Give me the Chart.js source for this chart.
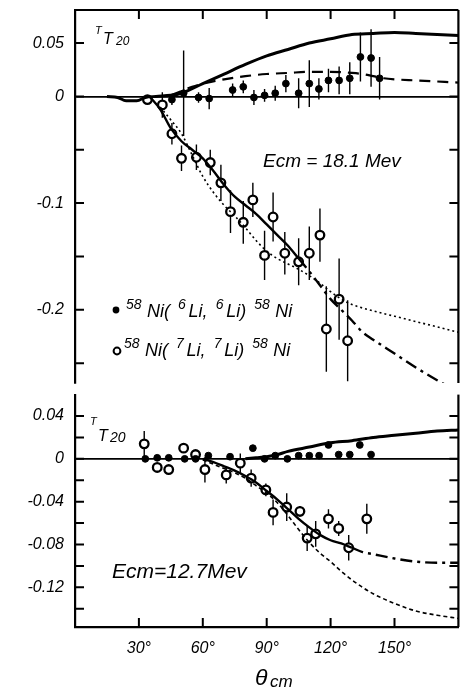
<!DOCTYPE html>
<html><head><meta charset="utf-8">
<script src="https://cdn.jsdelivr.net/npm/chart.js@4.4.1/dist/chart.umd.min.js"></script>
<style>
html,body{margin:0;padding:0;background:#fff;}
#wrap{position:relative;width:465px;height:689px;overflow:hidden;background:#fff;}
canvas{position:absolute;left:0;}
#c1{top:0;} #c2{top:388px;}
</style></head><body>
<div id="wrap"><canvas id="c1" width="465" height="390"></canvas><canvas id="c2" width="465" height="301"></canvas></div>
<script>
// ---------- tick labels ----------
const xTickVals = [30, 60, 90, 120, 150];
const xTickLabels = ['30°', '60°', '90°', '120°', '150°'];
const topYTicks = [0.05, 0, -0.05, -0.1, -0.15, -0.2, -0.25];
const topYLabels = ['0.05', '0', '', '-0.1', '', '-0.2', ''];
const botYTicks = [0.04, 0.02, 0, -0.02, -0.04, -0.06, -0.08, -0.10, -0.12, -0.14];
const botYLabels = ['0.04', '', '0', '', '-0.04', '', '-0.08', '', '-0.12', ''];

// ---------- upper panel, Ecm = 18.1 MeV ----------
const top6Theta = [45.5, 51, 58, 63, 74, 79, 84, 89, 94, 99, 105, 110, 114.5, 119, 124, 129, 134, 139, 143];
const top6Val   = [-0.003, 0.003, -0.001, -0.002, 0.006, 0.009, -0.001, 0.001, 0.003, 0.012, 0.003, 0.012, 0.007, 0.015, 0.015, 0.017, 0.037, 0.036, 0.017];
const top6Err   = [0.005, 0.04, 0.005, 0.01, 0.006, 0.006, 0.007, 0.006, 0.007, 0.008, 0.014, 0.022, 0.01, 0.011, 0.013, 0.015, 0.023, 0.027, 0.02];

const top7Theta = [34, 41, 45.5, 50, 57, 63.5, 68.5, 73, 79, 83.5, 89, 93, 98.5, 105, 110, 115, 118, 124, 128];
const top7Val   = [-0.003, -0.008, -0.035, -0.058, -0.057, -0.062, -0.081, -0.108, -0.118, -0.097, -0.149, -0.113, -0.147, -0.155, -0.147, -0.130, -0.218, -0.19, -0.229];
const top7Err   = [0.004, 0.012, 0.01, 0.012, 0.012, 0.012, 0.017, 0.02, 0.02, 0.016, 0.023, 0.023, 0.02, 0.022, 0.025, 0.025, 0.04, 0.038, 0.038];

const topFit6SolidTheta = [15, 20, 24, 29, 33, 38, 45, 50, 60, 70, 80, 90, 100, 110, 120, 130, 140, 150, 160, 170, 180];
const topFit6SolidVal   = [0, -0.001, -0.004, -0.004, -0.001, 0, 0.001, 0.003, 0.012, 0.021, 0.03, 0.038, 0.044, 0.05, 0.054, 0.058, 0.059, 0.06, 0.059, 0.058, 0.057];
const topFit6DashTheta  = [45, 50, 55, 60, 70, 80, 90, 100, 110, 120, 130, 135, 140, 145, 150, 160, 170, 180];
const topFit6DashVal    = [0.001, 0.005, 0.009, 0.012, 0.016, 0.019, 0.021, 0.022, 0.023, 0.023, 0.022, 0.021, 0.019, 0.017, 0.016, 0.015, 0.014, 0.013];
const topFit7DashDotTheta = [35, 40, 45, 50, 55, 60, 65, 70, 75, 80, 85, 90, 95, 100, 105, 110, 115, 120, 125, 130, 135, 140, 150, 160, 170, 180];
const topFit7DashDotVal   = [0, -0.012, -0.03, -0.042, -0.05, -0.058, -0.07, -0.083, -0.094, -0.102, -0.11, -0.12, -0.13, -0.14, -0.152, -0.164, -0.177, -0.19, -0.2, -0.21, -0.221, -0.228, -0.241, -0.254, -0.266, -0.277];
const topFit7DotTheta = [40, 45, 50, 55, 60, 65, 70, 75, 80, 85, 90, 95, 100, 105, 110, 115, 120, 125, 130, 140, 150, 160, 170, 180];
const topFit7DotVal   = [-0.01, -0.022, -0.035, -0.055, -0.075, -0.09, -0.102, -0.112, -0.123, -0.135, -0.145, -0.152, -0.157, -0.162, -0.168, -0.175, -0.183, -0.19, -0.195, -0.201, -0.206, -0.211, -0.216, -0.221];

// ---------- lower panel, Ecm = 12.7 MeV ----------
const bot6Theta = [33, 38.6, 44, 51.5, 56.6, 62.6, 72.8, 83.5, 89, 94, 99.7, 105, 110, 114.6, 119, 123.8, 129, 133.7, 139];
const bot6Val   = [0, 0.001, 0.001, 0, 0, 0.003, 0.002, 0.01, 0, 0.003, 0, 0.003, 0.003, 0.003, 0.013, 0.004, 0.004, 0.013, 0.004];

const bot7Theta = [32.5, 38.6, 44, 51, 56.6, 61, 71, 77.6, 82.7, 89.6, 93, 99.4, 105.6, 109, 113, 119, 123.8, 128.5, 137];
const bot7Val   = [0.014, -0.008, -0.01, 0.01, 0.004, -0.01, -0.015, -0.004, -0.018, -0.029, -0.05, -0.045, -0.049, -0.074, -0.07, -0.056, -0.065, -0.083, -0.056];
const bot7Err   = [0.012, 0.003, 0.003, 0.004, 0.004, 0.012, 0.008, 0.009, 0.008, 0.006, 0.012, 0.013, 0.005, 0.012, 0.012, 0.009, 0.007, 0.012, 0.014];

const botFit6SolidTheta = [80, 85, 90, 95, 100, 110, 120, 130, 140, 150, 160, 170, 180];
const botFit6SolidVal   = [0, 0.001, 0.002, 0.004, 0.007, 0.011, 0.015, 0.017, 0.02, 0.022, 0.024, 0.026, 0.027];
const botFit7DashDotTheta = [60, 65, 70, 75, 80, 85, 90, 95, 100, 105, 110, 115, 120, 125, 130, 135, 140, 150, 160, 170, 180];
const botFit7DashDotVal   = [0, -0.003, -0.007, -0.011, -0.016, -0.022, -0.03, -0.038, -0.047, -0.056, -0.064, -0.071, -0.076, -0.079, -0.083, -0.087, -0.089, -0.093, -0.096, -0.097, -0.097];
const botFit7DotTheta = [60, 65, 70, 75, 80, 85, 90, 95, 100, 105, 110, 115, 120, 125, 130, 135, 140, 150, 160, 170, 180];
const botFit7DotVal   = [-0.001, -0.005, -0.009, -0.013, -0.018, -0.025, -0.032, -0.041, -0.053, -0.066, -0.078, -0.088, -0.096, -0.105, -0.113, -0.12, -0.126, -0.135, -0.142, -0.146, -0.149];

// ---------- helpers ----------
const FONT = '"Liberation Sans", "DejaVu Sans", sans-serif';
const pts = (xs, ys) => xs.map((x, i) => ({x: x, y: ys[i]}));
function lineDs(xs, ys, w, dash, extra) {
  return Object.assign({type: 'line', data: pts(xs, ys), borderColor: '#000', borderWidth: w,
    borderDash: dash, pointRadius: 0, fill: false, cubicInterpolationMode: 'monotone'}, extra || {});
}
function ptDs(xs, ys, errs, filled) {
  return {type: 'line', showLine: false, data: pts(xs, ys), errs: errs,
    pointStyle: 'circle', pointRadius: filled ? 3.4 : 4.3,
    pointBackgroundColor: filled ? '#000' : '#fff', pointBorderColor: '#000',
    pointBorderWidth: filled ? 1 : 2.3, borderColor: '#000'};
}

const inward = {
  id: 'inward',
  afterDraw(chart, args, o) {
    const {ctx, chartArea: a, scales: {x, y}} = chart;
    ctx.save();
    ctx.strokeStyle = '#000'; ctx.lineWidth = 2;
    ctx.beginPath();
    o.yTicks.forEach(v => { const py = y.getPixelForValue(v);
      ctx.moveTo(a.left, py); ctx.lineTo(a.left + 9, py);
      ctx.moveTo(a.right, py); ctx.lineTo(a.right - 9, py); });
    xTickVals.forEach(v => { const px = x.getPixelForValue(v);
      if (o.top) { ctx.moveTo(px, a.top); ctx.lineTo(px, a.top + 9); }
      if (o.bottom) { ctx.moveTo(px, a.bottom); ctx.lineTo(px, a.bottom - 9); } });
    ctx.stroke();
    ctx.lineWidth = 2.2; ctx.beginPath();
    ctx.moveTo(a.right, a.top); ctx.lineTo(a.right, a.bottom);
    if (o.top) { ctx.moveTo(a.left, a.top); ctx.lineTo(a.right, a.top); }
    ctx.stroke();
    ctx.restore();
  }
};

const errBars = {
  id: 'errbars',
  beforeDatasetDraw(chart, args) {
    const ds = chart.data.datasets[args.index];
    if (!ds.errs) return;
    const {ctx, scales: {x, y}} = chart;
    ctx.save(); ctx.strokeStyle = '#000'; ctx.lineWidth = 1.4; ctx.beginPath();
    ds.data.forEach((p, i) => { const e = ds.errs[i]; if (!e) return;
      const px = x.getPixelForValue(p.x);
      ctx.moveTo(px, y.getPixelForValue(p.y + e)); ctx.lineTo(px, y.getPixelForValue(p.y - e)); });
    ctx.stroke(); ctx.restore();
  }
};

function rich(ctx, x, y, parts, size, supSize, rise, spacing) {
  parts.forEach(p => {
    const s = p.s ? supSize : size;
    ctx.font = 'italic ' + s + 'px ' + FONT;
    const dy = p.s === 'sup' ? -rise : (p.s === 'sub' ? rise * 0.5 : 0);
    ctx.fillText(p.t, x, y + dy);
    x += ctx.measureText(p.t).width + (spacing || 0) * p.t.length;
  });
}
const legend6 = [{t: '58', s: 'sup'}, {t: 'Ni('}, {t: '6', s: 'sup'}, {t: 'Li,'}, {t: '6', s: 'sup'}, {t: 'Li)'}, {t: '58', s: 'sup'}, {t: 'Ni'}];
const legend7 = [{t: '58', s: 'sup'}, {t: 'Ni('}, {t: '7', s: 'sup'}, {t: 'Li,'}, {t: '7', s: 'sup'}, {t: 'Li)'}, {t: '58', s: 'sup'}, {t: 'Ni'}];

const topText = {
  id: 'topText',
  afterDraw(chart) {
    const ctx = chart.ctx; ctx.save(); ctx.fillStyle = '#000'; ctx.textBaseline = 'alphabetic';
    rich(ctx, 95, 34, [{t: 'T', s: 'sup'}], 16, 11, 0, 0);
    rich(ctx, 103, 44, [{t: 'T'}], 16, 11, 0, 0);
    rich(ctx, 116, 45, [{t: '20', s: 'sub'}], 16, 12, 0, 0);
    ctx.font = 'italic 19px ' + FONT;
    ctx.fillText('Ecm = 18.1 Mev', 263, 167);
    // legend markers
    ctx.beginPath(); ctx.arc(116, 310, 3.4, 0, Math.PI * 2); ctx.fill();
    ctx.beginPath(); ctx.arc(117, 351, 3.4, 0, Math.PI * 2); ctx.lineWidth = 2; ctx.strokeStyle = '#000'; ctx.stroke();
    rich(ctx, 126, 317, legend6, 18, 14, 8, 2.7);
    rich(ctx, 124, 356, legend7, 18, 14, 8, 2.7);
    ctx.restore();
  }
};
const botText = {
  id: 'botText',
  afterDraw(chart) {
    const ctx = chart.ctx; ctx.save(); ctx.fillStyle = '#000'; ctx.textBaseline = 'alphabetic';
    rich(ctx, 90, 37, [{t: 'T', s: 'sup'}], 16, 11, 0, 0);
    rich(ctx, 98, 53, [{t: 'T'}], 16, 11, 0, 0);
    rich(ctx, 110, 54, [{t: '20', s: 'sub'}], 16, 14, 0, 0);
    ctx.font = 'italic 21px ' + FONT;
    ctx.fillText('Ecm=12.7Mev', 112, 190);
    ctx.font = 'italic 23px ' + FONT;
    ctx.fillText('θ', 255, 297);
    ctx.font = 'italic 17px ' + FONT;
    ctx.fillText('cm', 270, 299);
    ctx.restore();
  }
};

function yAxis(min, max, ticks, labels) {
  return {
    type: 'linear', min: min, max: max,
    afterFit: s => { s.width = 75; s.paddingTop = 0; s.paddingBottom = 0; },
    afterBuildTicks: s => { s.ticks = ticks.map(v => ({value: v})); },
    ticks: {callback: (v, i) => labels[i], font: {family: FONT, style: 'italic', size: 16}, color: '#000', padding: 11, autoSkip: false},
    grid: {drawOnChartArea: true, drawTicks: false, color: c => (c.tick && Math.abs(c.tick.value) < 1e-9) ? '#000' : 'rgba(0,0,0,0)', lineWidth: 1.8},
    border: {display: true, color: '#000', width: 2.2}
  };
}

const common = {
  responsive: false, animation: false, devicePixelRatio: 1, events: [],
};

new Chart(document.getElementById('c1'), {
  type: 'line',
  data: {datasets: [
    lineDs(topFit6SolidTheta, topFit6SolidVal, 3, []),
    lineDs(topFit6DashTheta, topFit6DashVal, 2.2, [11, 7]),
    lineDs(topFit7DashDotTheta, topFit7DashDotVal, 2.4, [], {segment: {borderDash: c => c.p0.parsed.x >= 105 ? [12, 5, 3, 5] : undefined}}),
    lineDs(topFit7DotTheta, topFit7DotVal, 1.6, [2, 3]),
    ptDs(top6Theta, top6Val, top6Err, true),
    ptDs(top7Theta, top7Val, top7Err, false)
  ]},
  options: Object.assign({}, common, {
    layout: {padding: {top: 10, bottom: 7, left: 0, right: 2}},
    scales: {
      x: {type: 'linear', min: 0, max: 180, display: false},
      y: yAxis(-0.2686, 0.081, topYTicks, topYLabels)
    },
    plugins: {legend: {display: false}, tooltip: {enabled: false}, inward: {yTicks: topYTicks, top: true, bottom: false}}
  }),
  plugins: [inward, errBars, topText]
});

new Chart(document.getElementById('c2'), {
  type: 'line',
  data: {datasets: [
    lineDs(botFit6SolidTheta, botFit6SolidVal, 3, []),
    lineDs(botFit7DashDotTheta, botFit7DashDotVal, 2.4, [], {segment: {borderDash: c => c.p0.parsed.x >= 128 ? [12, 5, 3, 5] : undefined}}),
    lineDs(botFit7DotTheta, botFit7DotVal, 1.6, [4, 3]),
    ptDs(bot6Theta, bot6Val, null, true),
    ptDs(bot7Theta, bot7Val, bot7Err, false)
  ]},
  options: Object.assign({}, common, {
    layout: {padding: {top: 5, bottom: 0, left: 0, right: 2}},
    scales: {
      x: {type: 'linear', min: 0, max: 180, position: 'bottom',
        afterFit: s => { s.height = 62; s.paddingLeft = 0; s.paddingRight = 0; },
        afterBuildTicks: s => { s.ticks = xTickVals.map(v => ({value: v})); },
        ticks: {callback: (v, i) => xTickLabels[i], font: {family: FONT, style: 'italic', size: 16}, color: '#000', padding: 12, maxRotation: 0, autoSkip: false},
        grid: {drawOnChartArea: false, drawTicks: false},
        border: {display: true, color: '#000', width: 2.2}
      },
      y: yAxis(-0.157, 0.06, botYTicks, botYLabels)
    },
    plugins: {legend: {display: false}, tooltip: {enabled: false}, inward: {yTicks: botYTicks, top: false, bottom: true}}
  }),
  plugins: [inward, errBars, botText]
});
</script>
</body></html>
